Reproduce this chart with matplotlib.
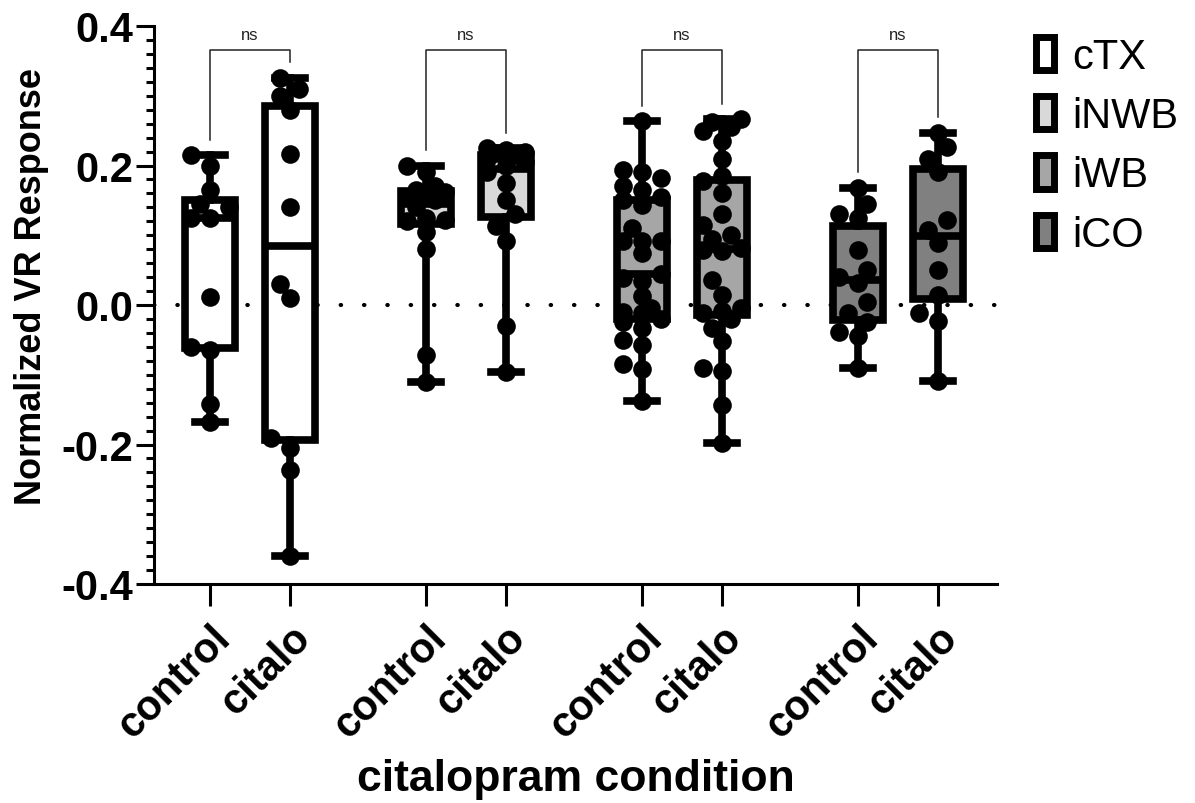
import matplotlib
matplotlib.use('Agg')
import matplotlib.pyplot as plt
from matplotlib.patches import Patch
from matplotlib.ticker import MultipleLocator
import numpy as np

plt.rcParams['font.family'] = ['Liberation Sans', 'DejaVu Sans']

# values, one list per box
ctx_control = [0.215, 0.20, 0.165, 0.145, 0.14, 0.125, 0.125, 0.012,
               -0.06, -0.065, -0.142, -0.168]
ctx_citalo = [0.326, 0.31, 0.30, 0.28, 0.216, 0.14, 0.03, 0.01,
              -0.19, -0.205, -0.236, -0.36]
inwb_control = [0.20, 0.19, 0.17, 0.165, 0.162, 0.16, 0.155, 0.15, 0.14,
                0.125, 0.122, 0.12, 0.105, 0.08, -0.072, -0.11]
inwb_citalo = [0.225, 0.222, 0.22, 0.218, 0.215, 0.21, 0.205, 0.20, 0.19,
               0.175, 0.15, 0.13, 0.113, 0.092, -0.03, -0.096]
iwb_control = [0.264, 0.194, 0.19, 0.182, 0.171, 0.165, 0.155, 0.15, 0.144,
               0.11, 0.092, 0.092, 0.092, 0.075, 0.045, 0.039, 0.035, 0.013,
               -0.005, -0.01, -0.012, -0.02, -0.025, -0.033, -0.05, -0.057,
               -0.085, -0.092, -0.138]
iwb_citalo = [0.266, 0.262, 0.255, 0.25, 0.235, 0.209, 0.185, 0.178, 0.161,
              0.13, 0.115, 0.10, 0.095, 0.082, 0.079, 0.077, 0.036, 0.015,
              -0.005, -0.008, -0.012, -0.02, -0.033, -0.052, -0.09, -0.095,
              -0.143, -0.198]
ico_control = [0.168, 0.145, 0.131, 0.125, 0.079, 0.05, 0.04, 0.032, 0.005,
               -0.011, -0.025, -0.038, -0.045, -0.09]
ico_citalo = [0.247, 0.226, 0.209, 0.19, 0.122, 0.108, 0.089, 0.05, 0.015,
              -0.011, -0.023, -0.109]

groups = ['cTX', 'iNWB', 'iWB', 'iCO']
conditions = ['control', 'citalo']
fills = ['#ffffff', '#d9d9d9', '#a6a6a6', '#808080']
data = [ctx_control, ctx_citalo, inwb_control, inwb_citalo,
        iwb_control, iwb_citalo, ico_control, ico_citalo]
sig_labels = ['ns', 'ns', 'ns', 'ns']

positions = []
for g in range(len(groups)):
    positions += [g * 2.7, g * 2.7 + 1]


def swarm_offsets(vals, px_x=80, px_y=696, diam=19):
    # compact beeswarm: small sideways shifts, overlap allowed when crowded
    vals = np.asarray(vals)
    placed = []
    offs = np.zeros(len(vals))
    for i in np.argsort(vals):
        y = vals[i] * px_y
        best, best_d = 0.0, -1.0
        for k in [0, -1, 1, -2, 2]:
            x = k * diam * 0.5
            d = min([np.hypot(x - a, y - b) for a, b in placed] + [1e9])
            if d >= 0.8 * diam:
                best = x
                break
            if d > best_d:
                best, best_d = x, d
        placed.append((best, y))
        offs[i] = best / px_x
    return offs


fig = plt.figure(figsize=(11.95, 8.04), dpi=100)
ax = fig.add_axes([154 / 1195, 1 - 585 / 804, (997 - 154) / 1195,
                   (585 - 27) / 804])

ax.axhline(0, color='black', lw=3, ls=(0, (0.1, 5.5)),
           dash_capstyle='round', zorder=1)

lw = 5.5
bp = ax.boxplot(data, positions=positions, widths=0.62, whis=(0, 100),
                patch_artist=True, showfliers=False, capwidths=0.38,
                boxprops=dict(lw=lw, edgecolor='black'),
                medianprops=dict(color='black', lw=lw),
                whiskerprops=dict(color='black', lw=lw),
                capprops=dict(color='black', lw=lw), zorder=2)
for i, box in enumerate(bp['boxes']):
    box.set_facecolor(fills[i // 2])

for p, vals in zip(positions, data):
    xs = p + swarm_offsets(vals)
    ax.scatter(xs, vals, s=180, color='black', zorder=3, linewidths=0)

# significance brackets
top = 0.365
for g in range(len(groups)):
    x1, x2 = positions[2 * g], positions[2 * g + 1]
    y1 = max(data[2 * g]) + 0.022
    y2 = max(data[2 * g + 1]) + 0.022
    ax.plot([x1, x1, x2, x2], [y1, top, top, y2], color='#222222', lw=1.1,
            zorder=4)
    ax.text((x1 + x2) / 2, top + 0.012, sig_labels[g], ha='center',
            va='bottom', fontsize=12, color='#222222')

ax.set_xlim(-0.7, 9.84)
ax.set_ylim(-0.4, 0.4)
ax.set_yticks([-0.4, -0.2, 0.0, 0.2, 0.4])
ax.set_yticklabels(['-0.4', '-0.2', '0.0', '0.2', '0.4'],
                   fontsize=30, fontweight='bold')
ax.yaxis.set_minor_locator(MultipleLocator(0.02))
ax.set_xticks(positions)
ax.set_xticklabels(conditions * len(groups), rotation=45, ha='right',
                   va='top', rotation_mode='anchor', fontsize=30,
                   fontweight='bold')
ax.tick_params(axis='x', length=16, width=2.2, pad=8)
ax.tick_params(axis='y', which='major', length=13, width=2.2, pad=2)
ax.tick_params(axis='y', which='minor', length=6, width=2.2)
for s in ['top', 'right']:
    ax.spines[s].set_visible(False)
for s in ['left', 'bottom']:
    ax.spines[s].set_linewidth(2.2)

ax.set_ylabel('Normalized VR Response', fontsize=26, fontweight='bold')
ax.yaxis.set_label_coords(-0.124, 0.535)
ax.set_xlabel('citalopram condition', fontsize=32, fontweight='bold',
              labelpad=9)

handles = [Patch(facecolor=c, edgecolor='black', linewidth=5) for c in fills]
fig.legend(handles, groups, loc='upper left',
           bbox_to_anchor=(1036 / 1195, 1 - 38 / 804), frameon=False,
           fontsize=30, handlelength=0.42, handleheight=0.85,
           handletextpad=0.45, labelspacing=0.46, borderpad=0,
           borderaxespad=0)

fig.savefig('out.png', dpi=100)
